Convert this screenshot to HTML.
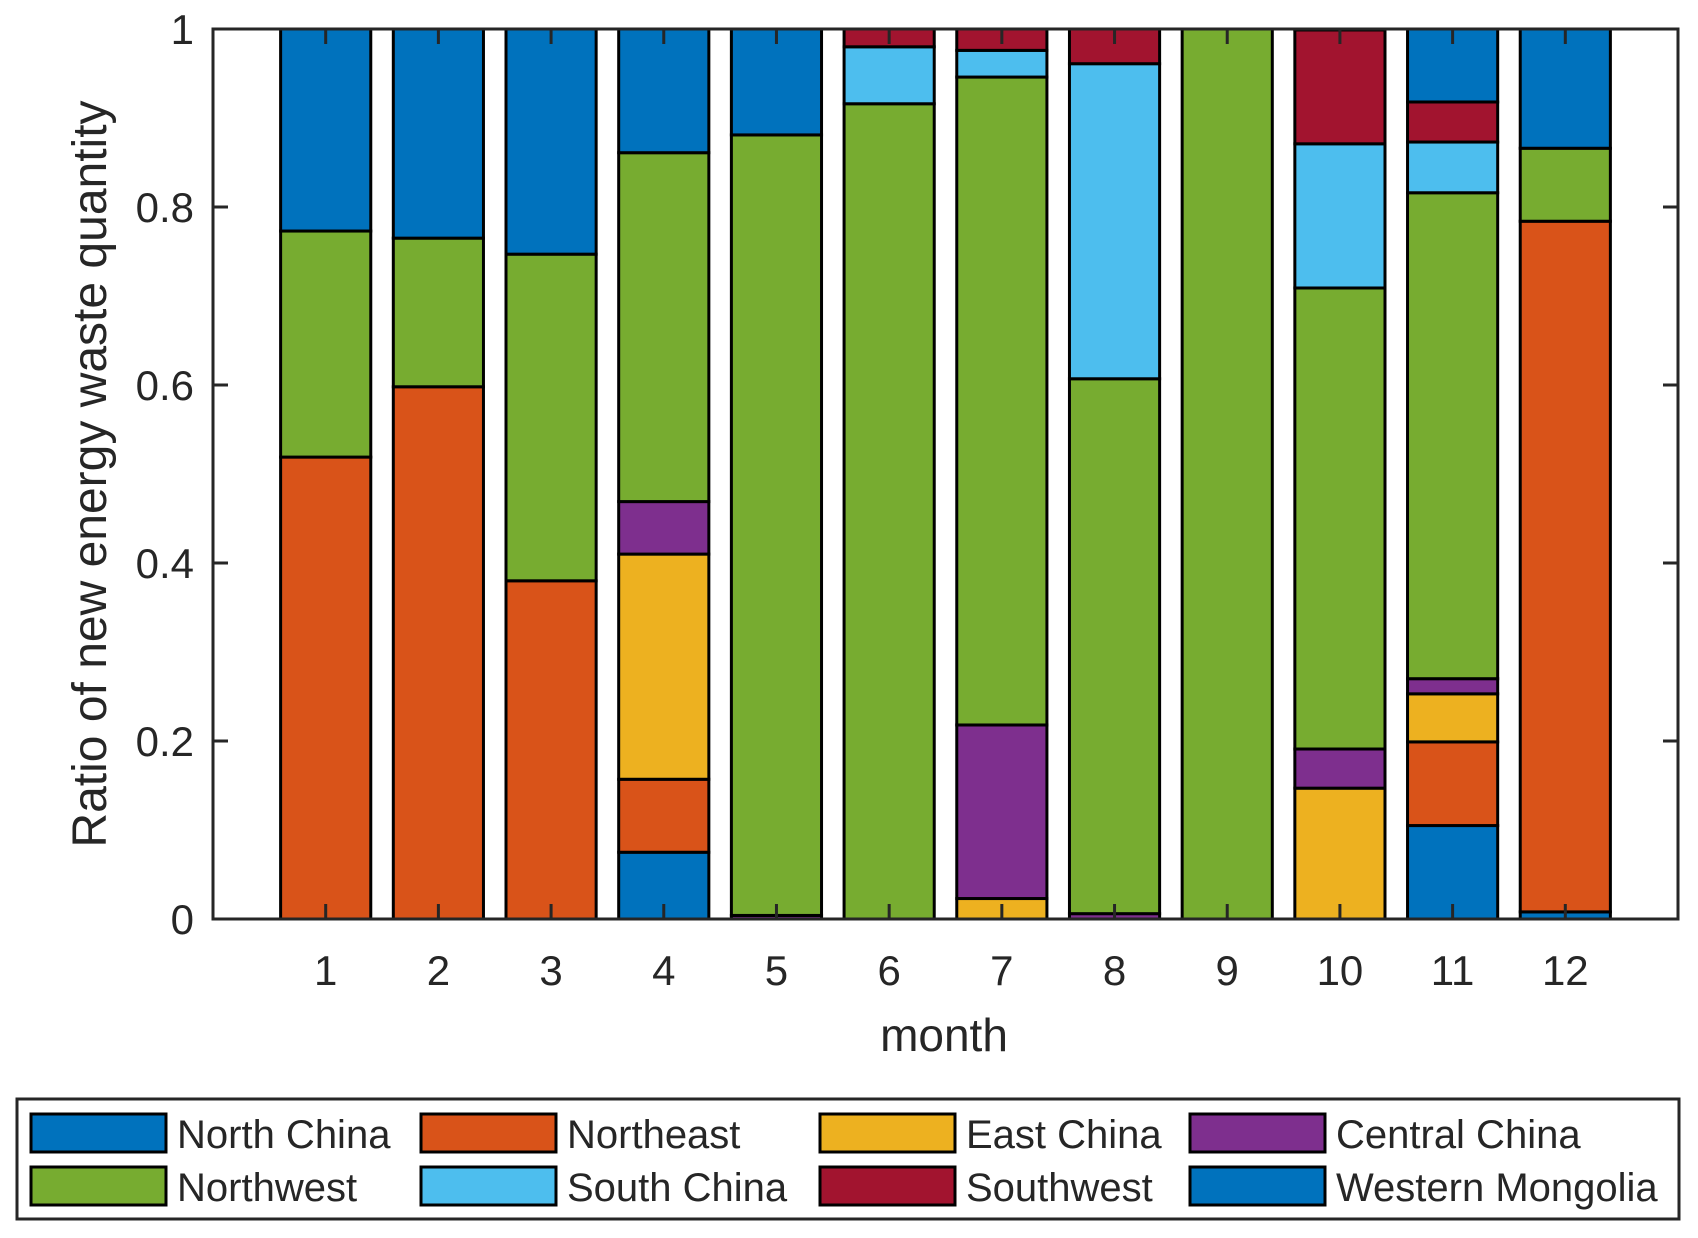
<!DOCTYPE html>
<html><head><meta charset="utf-8"><style>
html,body{margin:0;padding:0;background:#fff}
svg{display:block}
text{font-family:"Liberation Sans",Arial,sans-serif;fill:#262626}
</style></head><body>
<svg id="chart" width="1698" height="1238" viewBox="0 0 1698 1238" xmlns="http://www.w3.org/2000/svg"></svg>
<script>
const months = [1,2,3,4,5,6,7,8,9,10,11,12];
const seriesNames = ["North China","Northeast","East China","Central China","Northwest","South China","Southwest","Western Mongolia"];
const seriesColors = ["#0072BD","#D95319","#EDB120","#7E2F8E","#77AC30","#4DBEEE","#A2142F","#0072BD"];
const northChina    = [0,0,0,0.075,0,0,0,0,0,0,0.105,0.008];
const northeast     = [0.519,0.598,0.380,0.082,0,0,0,0,0,0,0.094,0.776];
const eastChina     = [0,0,0,0.253,0,0,0.023,0,0,0.147,0.054,0];
const centralChina  = [0,0,0,0.059,0.004,0,0.195,0.006,0,0.044,0.017,0];
const northwest     = [0.254,0.167,0.367,0.392,0.877,0.916,0.728,0.601,1,0.518,0.546,0.082];
const southChina    = [0,0,0,0,0,0.064,0.030,0.354,0,0.162,0.057,0];
const southwest     = [0,0,0,0,0,0.020,0.024,0.039,0,0.128,0.045,0];
const westernMongolia = [0.227,0.235,0.253,0.139,0.119,0,0,0,0,0.001,0.082,0.134];
const seriesValues = [northChina,northeast,eastChina,centralChina,northwest,southChina,southwest,westernMongolia];
const yTicks = [0,0.2,0.4,0.6,0.8,1];
const yTickLabels = ["0","0.2","0.4","0.6","0.8","1"];

const L=213,R=1678,T=29,B=919;
const xS = v => L + (v-0)/(13-0)*(R-L);
const yS = v => B - v*(B-T);
const step = xS(1)-xS(0), bw = step*0.8;
const svg = document.getElementById('chart');
const NS="http://www.w3.org/2000/svg";
function mk(tag, attrs, parent){const e=document.createElementNS(NS,tag);for(const k in attrs)e.setAttribute(k,attrs[k]);(parent||svg).appendChild(e);return e;}

const bars = mk('g',{});


months.forEach((m,i)=>{
  let acc=0;
  seriesValues.forEach((arr,s)=>{
    const v=arr[i];
    if(v>0){
      const r=mk('rect',{x:xS(m)-bw/2,y:yS(acc+v),width:bw,height:yS(acc)-yS(acc+v),fill:seriesColors[s],stroke:'#000','stroke-width':3},bars);
      
      
    }
    acc+=v;
  });
});

const ax = mk('g',{});


mk('rect',{x:L,y:T,width:R-L,height:B-T,fill:'none',stroke:'#262626','stroke-width':3},ax);
months.forEach(m=>{
  mk('line',{x1:xS(m),x2:xS(m),y1:B,y2:B-15,stroke:'#262626','stroke-width':3},ax);
  mk('line',{x1:xS(m),x2:xS(m),y1:T,y2:T+15,stroke:'#262626','stroke-width':3},ax);
  const t=mk('text',{x:xS(m),y:985,'font-size':42,'text-anchor':'middle'},ax);
  t.textContent=m;
  
  
});
yTicks.forEach((v,i)=>{
  mk('line',{x1:L,x2:L+15,y1:yS(v),y2:yS(v),stroke:'#262626','stroke-width':3},ax);
  mk('line',{x1:R,x2:R-15,y1:yS(v),y2:yS(v),stroke:'#262626','stroke-width':3},ax);
  const t=mk('text',{x:194,y:yS(v)+15,'font-size':42,'text-anchor':'end'},ax);
  t.textContent=yTickLabels[i];
  
  
});
const xt=mk('text',{x:944,y:1051,'font-size':46,'text-anchor':'middle'});
xt.textContent='month';


const yt=mk('text',{x:0,y:0,'font-size':48,'text-anchor':'middle',transform:'translate(106,474) rotate(-90)'});
yt.textContent='Ratio of new energy waste quantity';



const lg=mk('g',{});


mk('rect',{x:17,y:1099,width:1662,height:120,fill:'#fff',stroke:'#262626','stroke-width':3},lg);
const colX=[31,421,820,1190], rowY=[1114,1167];
seriesNames.forEach((n,s)=>{
  const c=s%4, r=Math.floor(s/4);
  const g=mk('g',{},lg);
  
  
  mk('rect',{x:colX[c],y:rowY[r],width:135,height:38,fill:seriesColors[s],stroke:'#000','stroke-width':3},g);
  const t=mk('text',{x:colX[c]+146,y:rowY[r]+34,'font-size':40,fill:'#000'},g);
  t.textContent=n;
});
</script>
</body></html>
